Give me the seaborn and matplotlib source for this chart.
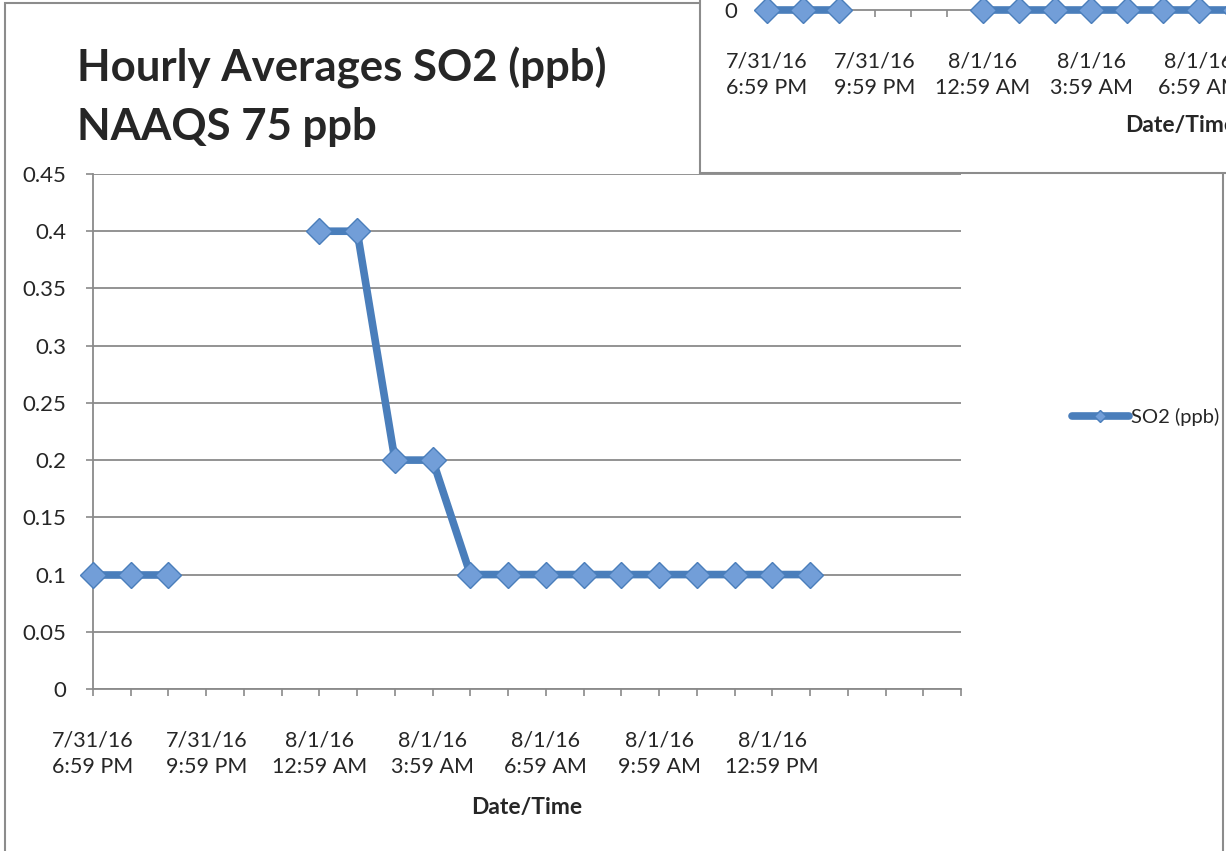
import numpy as np
import pandas as pd
import matplotlib
matplotlib.use('Agg')
import matplotlib.pyplot as plt
import seaborn as sns
from matplotlib.lines import Line2D
from matplotlib.patches import Rectangle

# Данные
hours = list(range(24))
so2_ppb = [0.1, 0.1, 0.1, np.nan, np.nan, np.nan, 0.4, 0.4, 0.2, 0.2,
           0.1, 0.1, 0.1, 0.1, 0.1, 0.1, 0.1, 0.1, 0.1, 0.1,
           np.nan, np.nan, np.nan, np.nan]
# второй (перекрывающий) график: только нулевые значения
other_ppb = [0, 0, 0, np.nan, np.nan, np.nan, 0, 0, 0, 0,
             0, 0, 0, 0, 0, 0, 0, 0, 0, 0,
             np.nan, np.nan, np.nan, np.nan]
label_hours = [0, 3, 6, 9, 12, 15, 18]
tick_labels = ['7/31/16\n6:59 PM', '7/31/16\n9:59 PM', '8/1/16\n12:59 AM', '8/1/16\n3:59 AM',
               '8/1/16\n6:59 AM', '8/1/16\n9:59 AM', '8/1/16\n12:59 PM']
y_ticks = [0, 0.05, 0.1, 0.15, 0.2, 0.25, 0.3, 0.35, 0.4, 0.45]
y_tick_labels = ['0', '0.05', '0.1', '0.15', '0.2', '0.25', '0.3', '0.35', '0.4', '0.45']

# Стиль
sns.set_style('white')
plt.rcParams['font.family'] = ['Lato', 'DejaVu Sans']
LINE_COLOR = '#4a7ebb'
FACE_COLOR = '#729ed8'
GRID_COLOR = '#8a8a8a'
FRAME_COLOR = '#8c8c8c'
W, H = 1226, 851
TICK_SIZE = 15.5


def fx(px):
    return px / W


def fy(py):
    return 1 - py / H


def segments(values):
    return np.cumsum(pd.isna(pd.Series(values))).values


df = pd.DataFrame({'hour': hours, 'so2': so2_ppb, 'seg': segments(so2_ppb)}).dropna()
df2 = pd.DataFrame({'hour': hours, 'val': other_ppb, 'seg': segments(other_ppb)}).dropna()

fig = plt.figure(figsize=(W / 100, H / 100), dpi=100)

# рамка основной диаграммы
fig.patches.append(Rectangle((fx(5), fy(900)), fx(1223) - fx(5), fy(3) - fy(900),
                             transform=fig.transFigure, fill=False,
                             edgecolor=FRAME_COLOR, linewidth=1.5, zorder=0))

# Основной график
ax = fig.add_axes([fx(93), fy(689), fx(961) - fx(93), fy(174) - fy(689)])
sns.lineplot(data=df, x='hour', y='so2', units='seg', estimator=None, ax=ax,
             color=LINE_COLOR, linewidth=5.5, marker='D', markersize=13,
             markerfacecolor=FACE_COLOR, markeredgecolor=LINE_COLOR,
             markeredgewidth=1, legend=False, zorder=3, clip_on=False)
ax.set_xlim(0, 23)
ax.set_ylim(0, 0.45)
ax.set_yticks(y_ticks)
ax.set_yticklabels(y_tick_labels)
ax.set_xticks(label_hours)
ax.set_xticks(hours, minor=True)
ax.set_xticklabels(tick_labels, linespacing=1.4)
ax.yaxis.grid(True, color=GRID_COLOR, linewidth=1.3)
ax.set_axisbelow(True)
for side in ['top', 'right']:
    ax.spines[side].set_visible(False)
for side in ['left', 'bottom']:
    ax.spines[side].set_color(GRID_COLOR)
    ax.spines[side].set_linewidth(1.3)
ax.tick_params(axis='y', which='major', left=True, length=5, width=1.2, color=GRID_COLOR,
               pad=14, labelsize=16)
ax.tick_params(axis='x', which='both', bottom=True, length=5, width=1.2, color=GRID_COLOR,
               direction='out')
ax.tick_params(axis='x', which='major', pad=25, labelsize=TICK_SIZE)
ax.set_xlabel('Date/Time', fontsize=16.5, fontweight='bold', labelpad=14)
ax.set_ylabel('')

# Заголовок
fig.text(fx(77), fy(68), 'Hourly Averages SO2 (ppb)', fontsize=31.5, fontweight='bold',
         ha='left', va='center')
fig.text(fx(77), fy(127), 'NAAQS 75 ppb', fontsize=31.5, fontweight='bold',
         ha='left', va='center')

# Легенда
handle = Line2D([], [], color=LINE_COLOR, linewidth=5.5, marker='D', markersize=6,
                markerfacecolor=FACE_COLOR, markeredgecolor=LINE_COLOR)
fig.legend([handle], ['SO2 (ppb)'], loc='center left', bbox_to_anchor=(fx(1054), fy(417)),
           frameon=False, fontsize=14.5, handlelength=2.8, handletextpad=0.1)

# Перекрывающий второй график (верхний правый угол)
ax_frame = fig.add_axes([fx(700), fy(173), 1 - fx(700) + 0.05, fy(0) - fy(173) + 0.05], zorder=5)
ax_frame.set_facecolor('white')
ax_frame.set_xticks([])
ax_frame.set_yticks([])
for side in ['top', 'right']:
    ax_frame.spines[side].set_visible(False)
for side in ['left', 'bottom']:
    ax_frame.spines[side].set_color(FRAME_COLOR)
    ax_frame.spines[side].set_linewidth(1.5)

ax2 = fig.add_axes([fx(767), fy(10), 23 * 36 / W, 0.5], zorder=6)
ax2.patch.set_alpha(0)
sns.lineplot(data=df2, x='hour', y='val', units='seg', estimator=None, ax=ax2,
             color=LINE_COLOR, linewidth=5.5, marker='D', markersize=13,
             markerfacecolor=FACE_COLOR, markeredgecolor=LINE_COLOR,
             markeredgewidth=1, legend=False, zorder=3, clip_on=False)
ax2.set_xlim(0, 23)
ax2.set_ylim(0, 0.45)
ax2.set_yticks([0])
ax2.set_yticklabels(['0'])
ax2.set_xticks(label_hours)
ax2.set_xticks(hours, minor=True)
ax2.set_xticklabels(tick_labels, linespacing=1.4)
for side in ['top', 'right', 'left']:
    ax2.spines[side].set_visible(False)
ax2.spines['bottom'].set_color(GRID_COLOR)
ax2.spines['bottom'].set_linewidth(1.3)
ax2.tick_params(axis='y', left=False, pad=18, labelsize=16)
ax2.tick_params(axis='x', which='both', bottom=True, length=5, width=1.2, color=GRID_COLOR)
ax2.tick_params(axis='x', which='major', pad=25, labelsize=TICK_SIZE)
ax2.set_xlabel('Date/Time', fontsize=16.5, fontweight='bold', labelpad=12)
ax2.set_ylabel('')

plt.savefig('out.png', dpi=100)
plt.close()
